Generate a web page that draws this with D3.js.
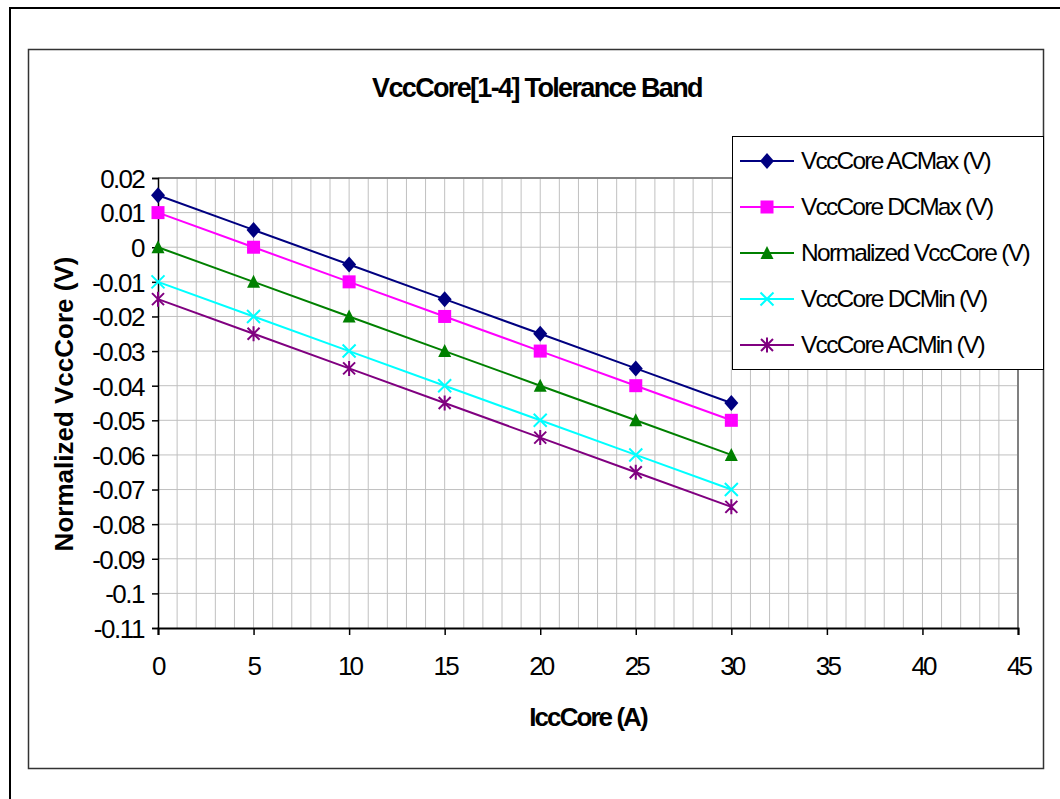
<!DOCTYPE html>
<html><head><meta charset="utf-8">
<script src="https://cdn.jsdelivr.net/npm/d3@7"></script>
<style>
html,body{margin:0;padding:0;background:#fff;}
svg{display:block;}
text{font-family:"Liberation Sans",Arial,sans-serif;fill:#000;}
</style></head>
<body>
<svg id="chart" width="1060" height="799"></svg>
<script>
const xValues = [0, 5, 10, 15, 20, 25, 30];
const acMax = [0.015, 0.005, -0.005, -0.015, -0.025, -0.035, -0.045];
const dcMax = [0.01, 0, -0.01, -0.02, -0.03, -0.04, -0.05];
const normalized = [0, -0.01, -0.02, -0.03, -0.04, -0.05, -0.06];
const dcMin = [-0.01, -0.02, -0.03, -0.04, -0.05, -0.06, -0.07];
const acMin = [-0.015, -0.025, -0.035, -0.045, -0.055, -0.065, -0.075];
const seriesNames = ["VccCore ACMax (V)", "VccCore DCMax (V)", "Normalized VccCore (V)", "VccCore DCMin (V)", "VccCore ACMin (V)"];
const seriesColors = ["#000080", "#ff00ff", "#008000", "#00ffff", "#800080"];
const seriesMarkers = ["diamond", "square", "triangle", "cross", "star"];
const xTicks = [0, 5, 10, 15, 20, 25, 30, 35, 40, 45];
const yTicks = [0.02, 0.01, 0, -0.01, -0.02, -0.03, -0.04, -0.05, -0.06, -0.07, -0.08, -0.09, -0.1, -0.11];
const titleText = "VccCore[1-4] Tolerance Band";
const xTitle = "IccCore (A)";
const yTitle = "Normalized VccCore (V)";

const seriesData = [acMax, dcMax, normalized, dcMin, acMin];

const svg = d3.select("#chart");
// tighten letter spacing so text takes about k of its natural width
function squeeze(sel, k) {
  sel.each(function() {
    const w = this.getComputedTextLength();
    const n = Math.max(1, this.textContent.length - 1);
    d3.select(this).style("letter-spacing", (-(w * (1 - k)) / n).toFixed(2) + "px");
  });
}
const fmtTick = d => String(+d.toFixed(2));

// outer borders
svg.append("rect").attr("x", 10).attr("y", 8).attr("width", 1100).attr("height", 900)
  .attr("fill", "#fff").attr("stroke", "#000").attr("stroke-width", 2);
svg.append("rect").attr("x", 28.5).attr("y", 49.5).attr("width", 1015).attr("height", 719)
  .attr("fill", "#fff").attr("stroke", "#333").attr("stroke-width", 1.5);

const plot = {left: 158, top: 178, right: 1018, bottom: 628};
const x = d3.scaleLinear().domain([0, 45]).range([plot.left, plot.right]);
const y = d3.scaleLinear().domain([-0.11, 0.02]).range([plot.bottom, plot.top]);

// gridlines
const g = svg.append("g");
g.selectAll("line.vg").data(d3.range(1, 45)).join("line")
  .attr("x1", d => x(d)).attr("x2", d => x(d)).attr("y1", plot.top).attr("y2", plot.bottom)
  .attr("stroke", "#c0c0c0").attr("stroke-width", 1);
g.selectAll("line.hg").data(yTicks.slice(1, -1)).join("line")
  .attr("x1", plot.left).attr("x2", plot.right).attr("y1", d => y(d)).attr("y2", d => y(d))
  .attr("stroke", "#c0c0c0").attr("stroke-width", 1);
// plot top/right border
svg.append("path").attr("d", `M${plot.left},${plot.top}H${plot.right}V${plot.bottom}`)
  .attr("fill", "none").attr("stroke", "#808080").attr("stroke-width", 2);

// axes
const yAxis = svg.append("g").attr("transform", `translate(${plot.left},0)`)
  .call(d3.axisLeft(y).tickValues(yTicks).tickSize(6).tickPadding(8).tickFormat(fmtTick));
yAxis.select(".domain").attr("stroke", "#000").attr("stroke-width", 1.5);
yAxis.selectAll(".tick line").attr("stroke", "#000").attr("stroke-width", 1.5);
yAxis.selectAll(".tick text").attr("font-size", 26).attr("fill", "#000")
  .style("font-family", '"Liberation Sans",Arial,sans-serif').attr("x", -14).attr("dy", "0.36em");

const xAxis = svg.append("g").attr("transform", `translate(0,${plot.bottom})`)
  .call(d3.axisBottom(x).tickValues(xTicks).tickSize(7).tickPadding(8).tickFormat(fmtTick));
xAxis.select(".domain").attr("stroke", "#000").attr("stroke-width", 2);
xAxis.selectAll(".tick line").attr("stroke", "#000").attr("stroke-width", 1.5);
xAxis.selectAll(".tick text").attr("font-size", 26).attr("fill", "#000")
  .style("font-family", '"Liberation Sans",Arial,sans-serif').attr("y", 47).attr("dy", null);

// marker drawing
function drawMarker(sel, type, color) {
  if (type === "diamond") {
    sel.append("path").attr("d", "M0,-8L7,0L0,8L-7,0Z").attr("fill", color);
  } else if (type === "square") {
    sel.append("rect").attr("x", -6.5).attr("y", -6.5).attr("width", 13).attr("height", 13).attr("fill", color);
  } else if (type === "triangle") {
    sel.append("path").attr("d", "M0,-7L6.5,6L-6.5,6Z").attr("fill", color);
  } else if (type === "cross") {
    sel.append("path").attr("d", "M-6.5,-6.5L6.5,6.5M-6.5,6.5L6.5,-6.5").attr("stroke", color).attr("stroke-width", 2).attr("fill", "none");
  } else if (type === "star") {
    sel.append("path").attr("d", "M-6,-6L6,6M-6,6L6,-6M0,-7.5V7.5").attr("stroke", color).attr("stroke-width", 2).attr("fill", "none");
  }
}

const line = d3.line().x((d, i) => x(xValues[i])).y(d => y(d));
seriesData.forEach((vals, si) => {
  svg.append("path").attr("d", line(vals)).attr("fill", "none")
    .attr("stroke", seriesColors[si]).attr("stroke-width", 2);
});
seriesData.forEach((vals, si) => {
  vals.forEach((v, i) => {
    const m = svg.append("g").attr("transform", `translate(${x(xValues[i])},${y(v)})`);
    drawMarker(m, seriesMarkers[si], seriesColors[si]);
  });
});

// titles
const t = svg.append("text").attr("x", 537).attr("y", 97).attr("text-anchor", "middle")
  .attr("font-size", 27).attr("font-weight", "bold").text(titleText);
const xt = svg.append("text").attr("x", 588).attr("y", 726).attr("text-anchor", "middle")
  .attr("font-size", 26).attr("font-weight", "bold").text(xTitle);
const yt = svg.append("text").attr("transform", "translate(73,404) rotate(-90)").attr("text-anchor", "middle")
  .attr("font-size", 26).attr("font-weight", "bold").text(yTitle);

// legend
const lg = svg.append("g");
lg.append("rect").attr("x", 732.5).attr("y", 136.5).attr("width", 311).attr("height", 233)
  .attr("fill", "#fff").attr("stroke", "#000").attr("stroke-width", 1);
seriesNames.forEach((name, i) => {
  const cy = 161 + i * 46;
  lg.append("line").attr("x1", 740).attr("x2", 794).attr("y1", cy).attr("y2", cy)
    .attr("stroke", seriesColors[i]).attr("stroke-width", 2);
  const m = lg.append("g").attr("transform", `translate(767,${cy})`);
  drawMarker(m, seriesMarkers[i], seriesColors[i]);
  lg.append("text").attr("class", "lgt").attr("x", 801).attr("y", cy + 8)
    .attr("font-size", 24.5).text(name);
});

squeeze(t, 0.885);
squeeze(xt, 0.86);
squeeze(lg.selectAll("text.lgt"), 0.87);
squeeze(yAxis.selectAll(".tick text"), 0.9);
squeeze(xAxis.selectAll(".tick text"), 0.9);
</script>
</body></html>
